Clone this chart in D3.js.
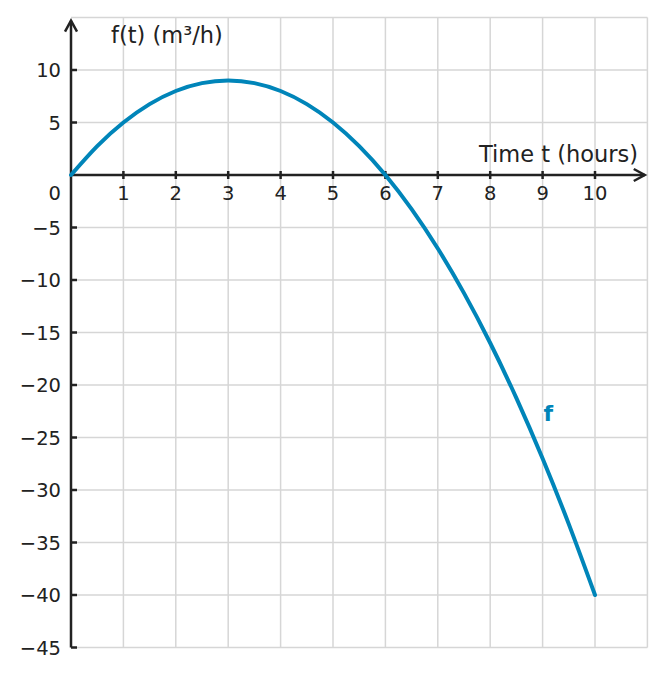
<!DOCTYPE html>
<html><head><meta charset="utf-8">
<script src="https://cdn.jsdelivr.net/npm/d3@7"></script>
<style>body{margin:0;background:#fff}svg{display:block}text{font-family:"DejaVu Sans",sans-serif}</style>
</head><body><svg id="c" width="665" height="675"></svg>
<script>
const tValues = [0,0.5,1,1.5,2,2.5,3,3.5,4,4.5,5,5.5,6,6.5,7,7.5,8,8.5,9,9.5,10];
const fValues = [0,2.75,5,6.75,8,8.75,9,8.75,8,6.75,5,2.75,0,-3.25,-7,-11.25,-16,-21.25,-27,-33.25,-40];
const xTicks = [1,2,3,4,5,6,7,8,9,10];
const yTicks = [10,5,-5,-10,-15,-20,-25,-30,-35,-40,-45];
const xLabel = "Time t (hours)";
const yLabel = "f(t) (m³/h)";
const seriesLabel = "f";

const svg = d3.select("#c");
const x = d3.scaleLinear().domain([0,10]).range([71,595]);
const y = d3.scaleLinear().domain([0,10]).range([175,70]);
const gridColor = "#d6d6d6", axisColor = "#222", lineColor = "#0085b9";
const fmt = v => v < 0 ? "\u2212" + Math.abs(v) : String(v);

const gx = d3.range(1,12), gy = d3.range(-45,16,5);
svg.append("g").selectAll("line").data(gx).join("line")
  .attr("x1",d=>x(d)).attr("x2",d=>x(d)).attr("y1",y(15)).attr("y2",y(-45))
  .attr("stroke",gridColor).attr("stroke-width",1.5);
svg.append("g").selectAll("line").data(gy.filter(d=>d!==0)).join("line")
  .attr("x1",x(0)).attr("x2",x(11)).attr("y1",d=>y(d)).attr("y2",d=>y(d))
  .attr("stroke",gridColor).attr("stroke-width",1.5);

// axes
svg.append("line").attr("x1",x(0)).attr("x2",x(10.95)).attr("y1",y(0)).attr("y2",y(0))
  .attr("stroke",axisColor).attr("stroke-width",2.5);
svg.append("path").attr("d",`M${x(10.95)-11},${y(0)-6}L${x(10.95)},${y(0)}L${x(10.95)-11},${y(0)+6}`)
  .attr("fill","none").attr("stroke",axisColor).attr("stroke-width",2.5);
svg.append("line").attr("x1",x(0)).attr("x2",x(0)).attr("y1",y(-45)).attr("y2",y(14.7))
  .attr("stroke",axisColor).attr("stroke-width",2.5);
svg.append("path").attr("d",`M${x(0)-6},${y(14.7)+11}L${x(0)},${y(14.7)}L${x(0)+6},${y(14.7)+11}`)
  .attr("fill","none").attr("stroke",axisColor).attr("stroke-width",2.5);

// ticks
svg.append("g").selectAll("line").data(xTicks).join("line")
  .attr("x1",d=>x(d)).attr("x2",d=>x(d)).attr("y1",y(0)-4).attr("y2",y(0)+4)
  .attr("stroke",axisColor).attr("stroke-width",2.5);
svg.append("g").selectAll("line").data(yTicks).join("line")
  .attr("x1",x(0)).attr("x2",x(0)+6).attr("y1",d=>y(d)).attr("y2",d=>y(d))
  .attr("stroke",axisColor).attr("stroke-width",2.5);

svg.append("g").selectAll("text").data(xTicks).join("text")
  .attr("x",d=>x(d)).attr("y",y(0)+25).attr("text-anchor","middle")
  .attr("font-size",19.5).attr("fill",axisColor).text(d=>fmt(d));
svg.append("g").selectAll("text").data(yTicks).join("text")
  .attr("x",x(0)-10).attr("y",d=>y(d)+7).attr("text-anchor","end")
  .attr("font-size",19.5).attr("fill",axisColor).text(d=>fmt(d));
svg.append("text").attr("x",x(0)-10).attr("y",y(0)+25).attr("text-anchor","end")
  .attr("font-size",19.5).attr("fill",axisColor).text("0");

svg.append("text").attr("x",638).attr("y",y(0)-13).attr("text-anchor","end")
  .attr("font-size",22.5).attr("fill",axisColor).text(xLabel);
svg.append("text").attr("x",111).attr("y",43).attr("text-anchor","start")
  .attr("font-size",22.5).attr("fill",axisColor).text(yLabel);

// curve
const pts = tValues.map((t,i)=>[t,fValues[i]]);
svg.append("path").datum(pts)
  .attr("d",d3.line().x(d=>x(d[0])).y(d=>y(d[1])).curve(d3.curveNatural))
  .attr("fill","none").attr("stroke",lineColor).attr("stroke-width",4).attr("stroke-linecap","round");
svg.append("text").attr("x",x(9.11)).attr("y",y(-23.4)).attr("text-anchor","middle")
  .attr("font-size",22).attr("font-weight","bold").attr("fill",lineColor)
  .attr("stroke","#fff").attr("stroke-width",3).attr("paint-order","stroke")
  .text(seriesLabel);
</script></body></html>
